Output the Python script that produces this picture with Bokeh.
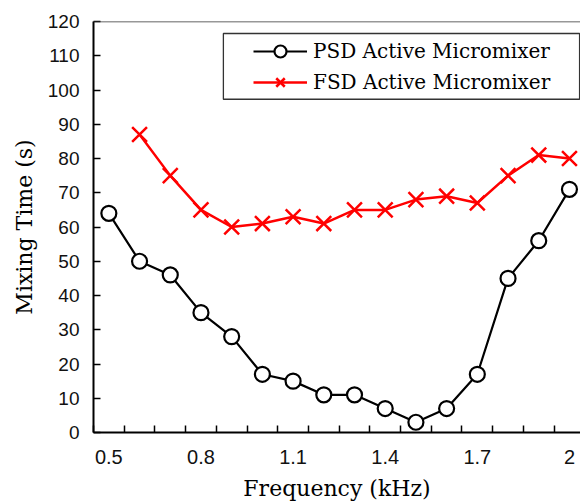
from bokeh.plotting import figure
from bokeh.models import Range1d, FixedTicker, Span, Legend, LegendItem, BoxAnnotation
from bokeh.embed import file_html
from bokeh.resources import INLINE

# ---- data ----
freq = [0.5, 0.6, 0.7, 0.8, 0.9, 1.0, 1.1, 1.2, 1.3, 1.4, 1.5, 1.6, 1.7, 1.8, 1.9, 2.0]
psd_time = [64, 50, 46, 35, 28, 17, 15, 11, 11, 7, 3, 7, 17, 45, 56, 71]
fsd_freq = [0.6, 0.7, 0.8, 0.9, 1.0, 1.1, 1.2, 1.3, 1.4, 1.5, 1.6, 1.7, 1.8, 1.9, 2.0]
fsd_time = [87, 75, 65, 60, 61, 63, 61, 65, 65, 68, 69, 67, 75, 81, 80]

x_tick_values = [0.5, 0.8, 1.1, 1.4, 1.7, 2.0]
x_tick_labels = ["0.5", "0.8", "1.1", "1.4", "1.7", "2"]
x_minor_ticks = [0.45, 0.55, 0.65, 0.75, 0.85, 0.95, 1.05, 1.15, 1.25, 1.35,
                 1.45, 1.55, 1.65, 1.75, 1.85, 1.95]
y_ticks = [0, 10, 20, 30, 40, 50, 60, 70, 80, 90, 100, 110, 120]

SANS = "Liberation Sans"
SERIF = "DejaVu Serif"

p = figure(width=580, height=503, output_backend="svg", toolbar_location=None,
           x_range=Range1d(0.45, 2.036), y_range=Range1d(0, 120),
           min_border_left=93, min_border_right=0, min_border_top=21,
           min_border_bottom=70)
p.outline_line_color = None
p.grid.visible = False
p.background_fill_color = "white"
p.border_fill_color = "white"

# top frame line
p.add_layout(Span(location=120, dimension="width", line_color="#333333", line_width=1.5))

# series
l1 = p.line(freq, psd_time, line_color="black", line_width=2.2)
s1 = p.scatter(freq, psd_time, marker="circle", size=15, line_color="black",
               line_width=2.2, fill_color="white")
l2 = p.line(fsd_freq, fsd_time, line_color="#ff0000", line_width=2.5)
s2 = p.scatter(fsd_freq, fsd_time, marker="x", size=21, line_color="#ff0000",
               line_width=2.5)

# legend box and legend
p.add_layout(BoxAnnotation(left=0.873, right=2.033, top=116.5, bottom=97.3,
                           fill_color="white", fill_alpha=1.0,
                           line_color="#333333", line_width=1.3, line_alpha=1.0))
legend = Legend(items=[LegendItem(label="PSD Active Micromixer", renderers=[l1, s1]),
                       LegendItem(label="FSD Active Micromixer", renderers=[l2, s2])],
                location=(160, 335), margin=0, padding=0, spacing=1,
                glyph_width=54, glyph_height=30, label_height=30, label_standoff=6,
                label_text_font=SERIF, label_text_font_size="20px",
                label_text_color="black",
                border_line_color=None, background_fill_alpha=0.0)
p.add_layout(legend, "center")

# x axis
xa = p.xaxis[0]
xa.ticker = FixedTicker(ticks=x_tick_values, minor_ticks=x_minor_ticks)
xa.major_label_overrides = dict(zip(x_tick_values, x_tick_labels))
xa.major_tick_in = 0
xa.major_tick_out = 0
xa.minor_tick_in = 7
xa.minor_tick_out = 0
xa.minor_tick_line_color = "black"
xa.minor_tick_line_width = 1.5
xa.axis_line_width = 2
xa.axis_line_color = "black"
xa.major_label_text_font = SANS
xa.major_label_text_font_size = "20px"
xa.major_label_text_color = "#111111"
xa.major_label_standoff = 17
xa.axis_label = "Frequency (kHz)"
xa.axis_label_text_font = SERIF
xa.axis_label_text_font_size = "22px"
xa.axis_label_text_font_style = "normal"
xa.axis_label_text_color = "black"
xa.axis_label_standoff = 9

# y axis
ya = p.yaxis[0]
ya.ticker = FixedTicker(ticks=y_ticks)
ya.major_tick_in = 7
ya.major_tick_out = 0
ya.major_tick_line_width = 1.5
ya.minor_tick_in = 0
ya.minor_tick_out = 0
ya.axis_line_width = 2
ya.axis_line_color = "black"
ya.major_label_text_font = SANS
ya.major_label_text_font_size = "19px"
ya.major_label_text_color = "#111111"
ya.major_label_standoff = 14
ya.axis_label = "Mixing Time (s)"
ya.axis_label_text_font = SERIF
ya.axis_label_text_font_size = "22px"
ya.axis_label_text_font_style = "normal"
ya.axis_label_text_color = "black"
ya.axis_label_standoff = 8

open("out.html", "w").write(file_html(p, INLINE))
